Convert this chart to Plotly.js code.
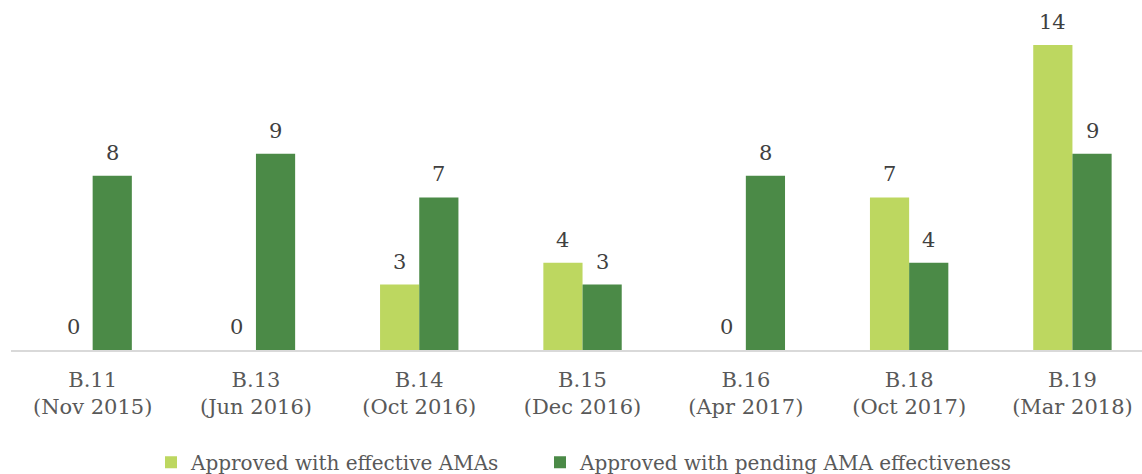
<!DOCTYPE html>
<html><head><meta charset="utf-8">
<script src="https://cdn.plot.ly/plotly-3.0.1.min.js"></script>
<style>html,body{margin:0;padding:0;background:#fff}#chart{width:1142px;height:474px}</style>
</head><body><div id="chart"></div>
<script>
const categories = ["B.11<br>(Nov 2015)", "B.13<br>(Jun 2016)", "B.14<br>(Oct 2016)", "B.15<br>(Dec 2016)", "B.16<br>(Apr 2017)", "B.18<br>(Oct 2017)", "B.19<br>(Mar 2018)"];
const effective = [0, 0, 3, 4, 0, 7, 14];
const pending = [8, 9, 7, 3, 8, 4, 9];
const seriesNames = ["Approved with effective AMAs", "Approved with pending AMA effectiveness"];
const colors = ["#bdd760", "#4b8a47"];

const fam = "DejaVu Serif, Liberation Serif, serif";
const tickFont = {family: fam, size: 21, color: "#595959"};
const labelFont = {family: fam, size: 21, color: "#404040"};
const legendFont = {family: fam, size: 20, color: "#595959"};

const traces = [
  {type: "bar", name: seriesNames[0], x: categories, y: effective, marker: {color: colors[0]}, legend: "legend"},
  {type: "bar", name: seriesNames[1], x: categories, y: pending, marker: {color: colors[1]}, legend: "legend2"}
];

const halfBar = (1 - 0.52) / 4;
const annotations = [];
[effective, pending].forEach((vals, s) => {
  vals.forEach((v, i) => {
    annotations.push({
      x: i + (s === 0 ? -halfBar : halfBar), y: v, xref: "x", yref: "y",
      text: String(v), showarrow: false, yanchor: "bottom", yshift: 9, font: labelFont
    });
  });
});

const legendBase = {orientation: "h", xref: "container", yref: "container", y: 0.025, yanchor: "middle",
                    xanchor: "left", font: legendFont, itemwidth: 30, bgcolor: "rgba(0,0,0,0)"};
const layout = {
  width: 1142, height: 474,
  margin: {l: 11, r: 0, t: 0, b: 124, autoexpand: false},
  barmode: "group", bargap: 0.52, bargroupgap: 0,
  font: tickFont,
  paper_bgcolor: "#fff", plot_bgcolor: "#fff",
  showlegend: true,
  legend: Object.assign({}, legendBase, {x: 151 / 1142}),
  legend2: Object.assign({}, legendBase, {x: 540 / 1142}),
  xaxis: {showline: true, linecolor: "#d9d9d9", linewidth: 1.5, ticks: "", tickfont: tickFont,
          ticklabelstandoff: 10, range: [-0.5, 6.426], fixedrange: true, automargin: false},
  yaxis: {range: [0, 16.06], visible: false, showgrid: false, zeroline: false, fixedrange: true},
  annotations: annotations
};
Plotly.newPlot("chart", traces, layout, {displayModeBar: false, staticPlot: true});
</script></body></html>
